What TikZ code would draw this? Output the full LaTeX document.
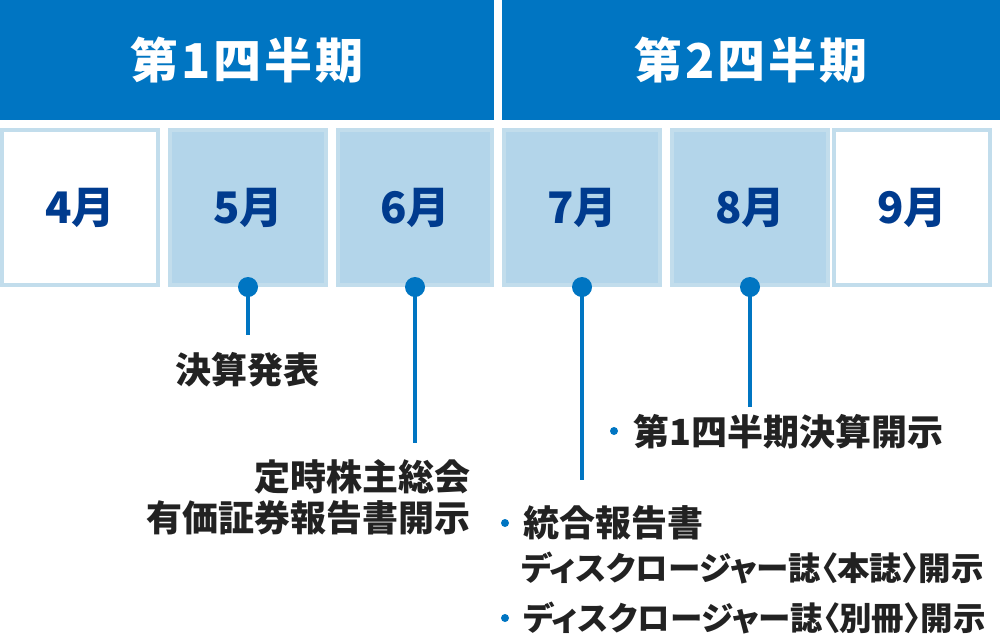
\documentclass[tikz,border=0pt]{standalone}
\usepackage{fontspec}
\newfontfamily\jp{Noto Sans CJK JP}[RawFeature=+palt]
\newfontfamily\jphdr{Noto Sans CJK JP}[RawFeature=+palt, LetterSpace=6]
\definecolor{hdr}{HTML}{0075C2}
\definecolor{mfill}{HTML}{B3D5EA}
\definecolor{mline}{HTML}{C2DDEC}
\definecolor{mtxt}{HTML}{003B8E}
\definecolor{txt}{HTML}{222222}
\newcommand{\mtext}[1]{\raisebox{-4pt}{#1}}
\tikzset{
  hdrbox/.style={fill=hdr, text=white, inner sep=0pt, minimum height=120pt,
    font=\jphdr\bfseries\fontsize{48}{54}\selectfont},
  monthbox/.style={draw=mline, line width=4pt, inner sep=0pt, minimum height=155pt,
    text=mtxt, font=\jp\bfseries\fontsize{43.5}{48}\selectfont},
  hot/.style={monthbox, fill=mfill},
  cold/.style={monthbox, fill=white},
  conn/.style={draw=hdr, line width=4pt},
  dot/.style={fill=hdr},
  lbl/.style={inner sep=0pt, text=txt, font=\jp\bfseries\fontsize{36}{43}\selectfont},
  sublbl/.style={lbl, font=\jp\bfseries\fontsize{32.5}{38}\selectfont},
  bul/.style={fill=hdr}
}
\begin{document}
\begin{tikzpicture}[x=1pt,y=-1pt]
\useasboundingbox (0,0) rectangle (1000,638);
\node[hdrbox, minimum width=494pt] (q1) at (247,60) {第1四半期};
\node[hdrbox, minimum width=498pt] (q2) at (751,60) {第2四半期};

\node[cold, minimum width=156pt] (m4) at (80,207.5) {\mtext{4月}};
\node[hot, minimum width=156pt] (m5) at (248,207.5) {\mtext{5月}};
\node[hot, minimum width=154pt] (m6) at (415,207.5) {\mtext{6月}};
\node[hot, minimum width=156pt] (m7) at (582,207.5) {\mtext{7月}};
\node[hot, minimum width=156pt] (m8) at (750,207.5) {\mtext{8月}};
\node[cold, minimum width=156pt] (m9) at (912,207.5) {\mtext{9月}};

\coordinate (e5) at (248,335);
\coordinate (e6) at (415,443);
\coordinate (e7) at (582,480);
\coordinate (e8) at (750,407);
\draw[conn] (m5.south) -- (e5);
\draw[conn] (m6.south) -- (e6);
\draw[conn] (m7.south) -- (e7);
\draw[conn] (m8.south) -- (e8);
\fill[dot] (m5.south) circle (10);
\fill[dot] (m6.south) circle (10);
\fill[dot] (m7.south) circle (10);
\fill[dot] (m8.south) circle (10);

\node[lbl] (t5) at (247,370) {決算発表};
\node[lbl, anchor=east] (t6a) at (471,477) {定時株主総会};
\node[lbl, anchor=east] (t6b) at (471,518) {有価証券報告書開示};

\fill[bul] (614,431) circle (4);
\node[lbl, anchor=west] (t8) at (633,432) {第1四半期決算開示};
\fill[bul] (505,523) circle (4);
\node[lbl, anchor=west] (t7a) at (523,523) {統合報告書};
\node[sublbl, anchor=west] (t7b) at (521,568) {ディスクロージャー誌〈本誌〉開示};
\fill[bul] (505,618) circle (4);
\node[sublbl, anchor=west] (t7c) at (523,618) {ディスクロージャー誌〈別冊〉開示};
\end{tikzpicture}
\end{document}
